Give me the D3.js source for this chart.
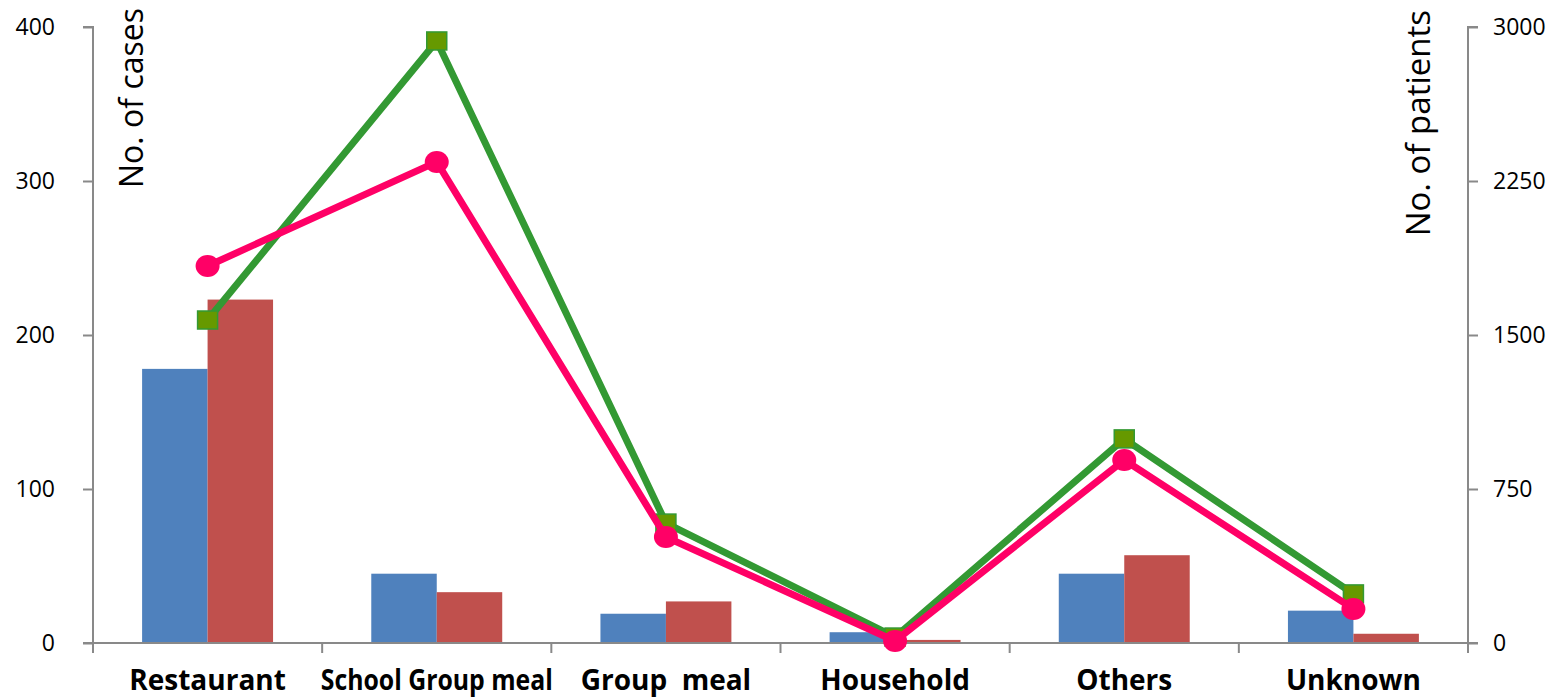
<!DOCTYPE html>
<html><head><meta charset="utf-8">
<script src="https://cdn.jsdelivr.net/npm/d3@7"></script>
<style>body{margin:0;background:#fff}svg{display:block}</style>
</head><body>
<script>
const categories = ["Restaurant","School Group meal","Group  meal","Household","Others","Unknown"];
const casesA = [178, 45, 19, 7, 45, 21];
const casesB = [223, 33, 27, 2, 57, 6];
const patientsA = [1573, 2932, 584, 29, 994, 239];
const patientsB = [1836, 2343, 516, 10, 891, 166];
const leftTicks = [0,100,200,300,400];
const rightTicks = [0,750,1500,2250,3000];

const W=1566,H=698;
const svg=d3.select("body").append("svg").attr("width",W).attr("height",H);
const x0=93,x1=1468,yTop=27,yBot=643;
const x=d3.scaleBand().domain(categories).range([x0,x1]);
const yL=d3.scaleLinear().domain([0,400]).range([yBot,yTop]);
const yR=d3.scaleLinear().domain([0,3000]).range([yBot,yTop]);
const axisColor="#898989";
const font="'Open Sans','Noto Sans',sans-serif";

// bars
const bw=x.bandwidth()/3.5;
const g=svg.append("g");
categories.forEach((c,i)=>{
  const cx=x(c)+x.bandwidth()/2;
  g.append("rect").attr("x",cx-bw).attr("y",yL(casesA[i])).attr("width",bw).attr("height",yBot-yL(casesA[i])).attr("fill","#4F81BD");
  g.append("rect").attr("x",cx).attr("y",yL(casesB[i])).attr("width",bw).attr("height",yBot-yL(casesB[i])).attr("fill","#C0504D");
});

// axes
const la=svg.append("g").attr("transform",`translate(${x0},0)`).call(d3.axisLeft(yL).tickValues(leftTicks).tickSize(10).tickPadding(28).tickFormat(d3.format("d")));
const ra=svg.append("g").attr("transform",`translate(${x1},0)`).call(d3.axisRight(yR).tickValues(rightTicks).tickSize(10).tickPadding(15).tickFormat(d3.format("d")));
const ba=svg.append("g").attr("transform",`translate(0,${yBot})`).call(d3.axisBottom(x).tickValues([]).tickSizeOuter(0));
[la,ra].forEach(a=>{
  a.select(".domain").attr("stroke",axisColor).attr("stroke-width",2);
  a.selectAll(".tick line").attr("stroke",axisColor).attr("stroke-width",2);
  a.selectAll(".tick text").attr("fill","#000").style("font-family",font).style("font-size","23px");
});
la.select(".domain").attr("d",`M-10,${yTop}H0V${yBot}H-10`);
ra.select(".domain").attr("d",`M10,${yTop}H0V${yBot}H10`);
ba.select(".domain").attr("stroke",axisColor).attr("stroke-width",2).attr("d",`M${x0},0H${x1}`);
// category boundary ticks
const bounds=categories.map(c=>x(c)).concat([x1]);
ba.selectAll("line.bt").data(bounds).enter().append("line").attr("class","bt")
  .attr("x1",d=>d).attr("x2",d=>d).attr("y1",0).attr("y2",10).attr("stroke",axisColor).attr("stroke-width",2);
// category labels
ba.selectAll("text.cat").data(categories).enter().append("text").attr("class","cat")
  .attr("x",d=>x(d)+x.bandwidth()/2)
  .attr("y",47).attr("text-anchor","middle")
  .style("font-family",font).style("font-size","28px").style("font-weight","bold").attr("fill","#000")
  .attr("textLength",d=>d==="School Group meal"?232:null)
  .attr("lengthAdjust","spacingAndGlyphs")
  .style("white-space","pre")
  .text(d=>d);

// lines
function drawLine(vals,color,marker){
  const pts=vals.map((v,i)=>[x(categories[i])+x.bandwidth()/2,yR(v)]);
  svg.append("path").attr("d",d3.line()(pts)).attr("fill","none").attr("stroke",color).attr("stroke-width",7).attr("stroke-linejoin","round");
  if(marker==="sq"){
    svg.selectAll(null).data(pts).enter().append("rect").attr("x",d=>d[0]-10).attr("y",d=>d[1]-9).attr("width",20).attr("height",18)
      .attr("fill","#669900").attr("stroke","#339933").attr("stroke-width",1.5);
  } else {
    svg.selectAll(null).data(pts).enter().append("ellipse").attr("cx",d=>d[0]).attr("cy",d=>d[1]).attr("rx",12).attr("ry",11)
      .attr("fill",color);
  }
}
drawLine(patientsA,"#339933","sq");
drawLine(patientsB,"#FF0066","ci");

// axis titles
svg.append("text").attr("transform","translate(143,8) rotate(-90)").attr("text-anchor","end")
  .style("font-family",font).style("font-size","32px").attr("fill","#000").text("No. of cases");
svg.append("text").attr("transform","translate(1430,10) rotate(-90)").attr("text-anchor","end")
  .style("font-family",font).style("font-size","33px").attr("fill","#000").text("No. of patients");
</script>
</body></html>
